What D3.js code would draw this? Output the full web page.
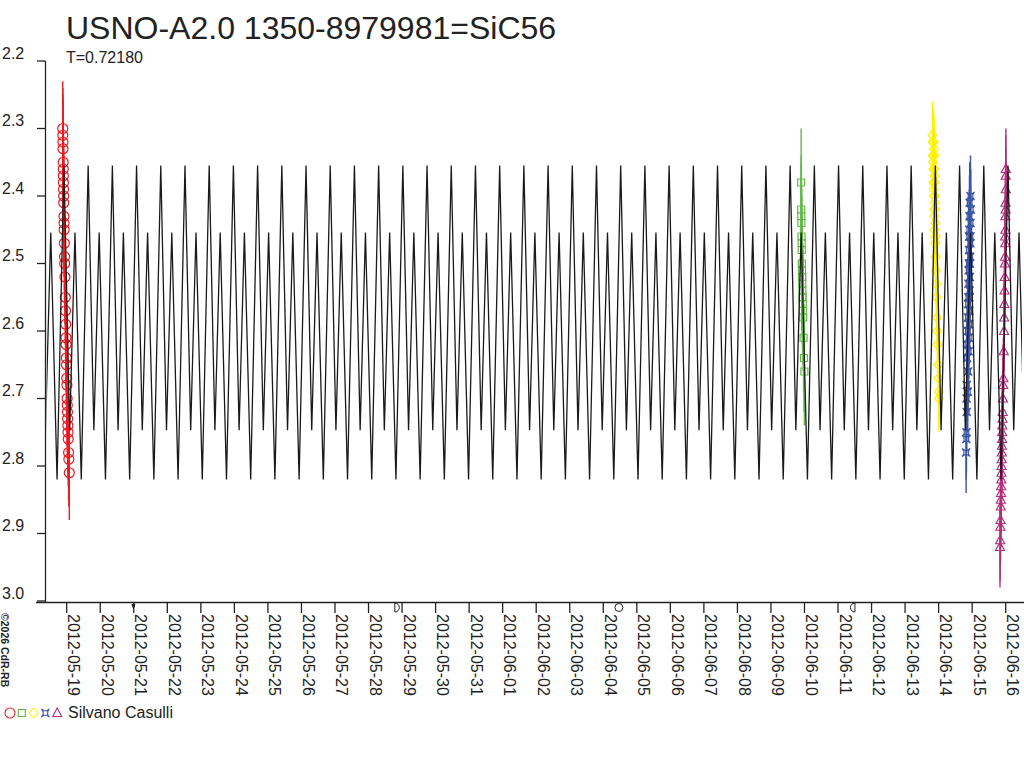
<!DOCTYPE html>
<html>
<head>
<meta charset="utf-8">
<script src="https://cdn.jsdelivr.net/npm/d3@7"></script>
<style>
body { margin: 0; background: #fff; }
text { font-family: "Liberation Sans", Arial, sans-serif; fill: #222; }
</style>
</head>
<body>
<div class="chart"></div>
<script>
// light curve, times in days after 2012-05-19 00:00 UT
var dayZero = Date.UTC(2012, 4, 19),
firstDay = Date.UTC(2012, 4, 19),
lastDay = Date.UTC(2012, 5, 16),
period = 0.72180,
epoch = 0.64;

// one cycle of the model curve
var modelPhase = [0, 0.236, 0.455, 0.715, 1],
modelMag = [2.355, 2.747, 2.454, 2.820, 2.355];

var redTime = [-0.118,-0.115,-0.112,-0.110,-0.105,-0.102,-0.100,-0.098,-0.094,-0.090,-0.088,-0.082,-0.080,-0.076,-0.070,-0.064,-0.060,-0.052,-0.042,-0.035,-0.028,-0.022,-0.018,-0.010,-0.006,0.002,0.006,0.012,0.018,0.022,0.028,0.034,0.040,0.046,0.056,0.064,0.078],
redMag = [2.30,2.31,2.32,2.33,2.35,2.36,2.37,2.38,2.39,2.40,2.41,2.43,2.44,2.45,2.47,2.49,2.50,2.52,2.55,2.57,2.59,2.61,2.62,2.64,2.65,2.67,2.68,2.70,2.71,2.72,2.73,2.74,2.75,2.76,2.78,2.79,2.81];

var greenTime = [21.900,21.902,21.905,21.908,21.912,21.915,21.918,21.922,21.925,21.928,21.930,21.934,21.938,21.942,21.945,21.950,21.955,21.962,21.972,21.985,21.998],
greenMag = [2.38,2.42,2.43,2.44,2.46,2.47,2.48,2.50,2.51,2.52,2.52,2.53,2.54,2.55,2.55,2.56,2.57,2.58,2.61,2.64,2.66];

var yellowTime = [25.815,25.850,25.825,25.860,25.830,25.868,25.836,25.870,25.845,25.878,25.850,25.880,25.855,25.885,25.862,25.890,25.870,25.895,25.875,25.900,25.880,25.905,25.900,25.910,25.920,25.930,25.940,25.955,25.962,25.970,25.985,25.995,26.005,26.010],
yellowMag = [2.31,2.32,2.32,2.33,2.34,2.34,2.35,2.36,2.36,2.37,2.38,2.38,2.39,2.40,2.40,2.41,2.42,2.42,2.43,2.44,2.45,2.46,2.47,2.49,2.51,2.53,2.55,2.58,2.60,2.62,2.65,2.67,2.69,2.70];

var blueTime = [26.950,26.925,26.958,26.920,26.952,26.915,26.948,26.910,26.945,26.905,26.940,26.900,26.936,26.898,26.930,26.890,26.925,26.885,26.920,26.880,26.915,26.875,26.905,26.870,26.900,26.860,26.895,26.850,26.880,26.840,26.870,26.835,26.838,26.830,26.826,26.820],
blueMag = [2.40,2.41,2.42,2.43,2.44,2.45,2.46,2.46,2.47,2.48,2.49,2.50,2.50,2.51,2.52,2.53,2.54,2.55,2.55,2.56,2.57,2.58,2.59,2.60,2.61,2.62,2.63,2.64,2.66,2.68,2.69,2.70,2.72,2.75,2.76,2.78];

var magentaTime = [28.005,28.000,28.002,27.995,27.998,27.990,27.992,27.985,27.988,27.980,27.976,27.972,27.966,27.960,27.955,27.950,27.942,27.930,27.925,27.918,27.910,27.905,27.900,27.896,27.892,27.888,27.884,27.880,27.876,27.872,27.868,27.864,27.860,27.856,27.852,27.846,27.842,27.836,27.830],
magentaMag = [2.36,2.37,2.39,2.41,2.42,2.43,2.45,2.46,2.47,2.49,2.50,2.52,2.54,2.56,2.58,2.60,2.63,2.67,2.68,2.70,2.72,2.73,2.74,2.75,2.76,2.77,2.78,2.79,2.80,2.81,2.82,2.83,2.84,2.85,2.86,2.88,2.89,2.91,2.92];

var seriesNames = ["red", "green", "yellow", "blue", "magenta"],
seriesColors = ["#ed1c24", "#62b846", "#fff200", "#3b55a4", "#b3307c"],
seriesErrors = [0.07, 0.08, 0.05, 0.06, 0.06],
seriesTimes = [redTime, greenTime, yellowTime, blueTime, magentaTime],
seriesMags = [redMag, greenMag, yellowMag, blueMag, magentaMag];

var moonTimes = [Date.UTC(2012,4,20,23,47), Date.UTC(2012,4,28,20,16), Date.UTC(2012,5,4,11,12), Date.UTC(2012,5,11,10,41)],
moonKinds = ["new", "first", "full", "last"];

var titleText = "USNO-A2.0 1350-8979981=SiC56",
observer = "Silvano Casulli",
yTicks = [2.2, 2.3, 2.4, 2.5, 2.6, 2.7, 2.8, 2.9, 3.0];

var width = 1024, height = 768,
plot = {left: 45.5, top: 61, right: 1022, bottom: 601};

var x = d3.scaleUtc()
.domain([new Date(firstDay), new Date(lastDay)])
.range([66.7, 1005.7]);

var y = d3.scaleLinear()
.domain([2.2, 3.0])
.range([plot.top, plot.bottom]);

function tx(t) { return x(new Date(dayZero + t * 864e5)); }

var svg = d3.select(".chart").append("svg")
.attr("width", width)
.attr("height", height);

svg.append("defs").append("clipPath").attr("id", "clip")
.append("rect")
.attr("x", plot.left + 1).attr("y", 0)
.attr("width", plot.right - plot.left - 1).attr("height", plot.bottom + 1);

// title
svg.append("text").attr("x", 66).attr("y", 39)
.style("font-size", "32px").text(titleText);
svg.append("text").attr("x", 66).attr("y", 63)
.style("font-size", "16px").text("T=" + period.toFixed(5));

// y axis
svg.append("line")
.attr("x1", plot.left).attr("x2", plot.left)
.attr("y1", y(2.2)).attr("y2", 602.5)
.attr("stroke", "#222").attr("stroke-width", 1.3);

svg.selectAll(".ytick").data(yTicks).enter().append("line")
.attr("x1", 37).attr("x2", plot.left)
.attr("y1", function(d) { return y(d); })
.attr("y2", function(d) { return y(d); })
.attr("stroke", "#222").attr("stroke-width", 1.3);

svg.selectAll(".ylab").data(yTicks).enter().append("text")
.attr("x", 2)
.attr("y", function(d) { return y(d) - 2.5; })
.style("font-size", "16px")
.text(function(d) { return d3.format(".1f")(d); });

// x axis
svg.append("line")
.attr("x1", 36).attr("x2", width)
.attr("y1", 602.5).attr("y2", 602.5)
.attr("stroke", "#222").attr("stroke-width", 1.3);

var days = d3.utcDay.range(new Date(firstDay), new Date(lastDay + 1));

svg.selectAll(".xtick").data(days).enter().append("line")
.attr("x1", function(d) { return x(d); })
.attr("x2", function(d) { return x(d); })
.attr("y1", 602.5).attr("y2", 613)
.attr("stroke", "#222").attr("stroke-width", 1.3);

svg.selectAll(".xlab").data(days).enter().append("text")
.attr("transform", function(d) { return "translate(" + (x(d) + 1.5) + ",614) rotate(90)"; })
.style("font-size", "16px")
.text(function(d) { return d3.utcFormat("%Y-%m-%d")(d); });

// moon phases along the time axis
var moons = svg.selectAll(".moon").data(moonTimes).enter().append("g")
.attr("transform", function(d) { return "translate(" + x(new Date(d)) + ",607.5)"; });

moons.append("path")
.attr("d", function(d, i) {
   var k = moonKinds[i];
   if (k == "new") return "M-1.5,-3L1.5,-3L0,1Z";
   if (k == "full") return "M-4,0A4,4 0 1,0 4,0A4,4 0 1,0 -4,0";
   if (k == "first") return "M-2,-4.5L-2,4.5A4.5,4.5 0 0,0 -2,-4.5Z";
   return "M2,-4.5L2,4.5A4.5,4.5 0 0,1 2,-4.5Z";
})
.attr("fill", function(d, i) { return moonKinds[i] == "new" ? "#222" : "none"; })
.attr("stroke", "#222").attr("stroke-width", 1);

// copyright
svg.append("text")
.attr("transform", "translate(1,613) rotate(90)")
.style("font-size", "10.5px").style("font-weight", "bold")
.text("\u00a92026 CdR-RB");

// marker shapes
function marker(name) {
   if (name == "red") return "M-5,0A5,5 0 1,0 5,0A5,5 0 1,0 -5,0";
   if (name == "green") return "M-3.5,-3.5H3.5V3.5H-3.5Z";
   if (name == "yellow") return "M0,-5L4.5,0L0,5L-4.5,0Z";
   if (name == "blue") return "M-4,-4L-1.5,-2.3L1.5,-2.3L4,-4L2.3,-1.5L2.3,1.5L4,4L1.5,2.3L-1.5,2.3L-4,4L-2.3,1.5L-2.3,-1.5Z";
   return "M0,-5L4.5,3.5L-4.5,3.5Z";
}

var obs = svg.append("g").attr("clip-path", "url(#clip)");

seriesNames.forEach(function(name, s) {
   var pts = seriesTimes[s].map(function(t, i) { return {t: t, m: seriesMags[s][i]}; });
   var g = obs.append("g");
   g.selectAll("line").data(pts).enter().append("line")
   .attr("x1", function(d) { return tx(d.t); })
   .attr("x2", function(d) { return tx(d.t); })
   .attr("y1", function(d) { return y(d.m - seriesErrors[s]); })
   .attr("y2", function(d) { return y(d.m + seriesErrors[s]); })
   .attr("stroke", seriesColors[s]).attr("stroke-width", 1.4);
   g.selectAll("path").data(pts).enter().append("path")
   .attr("transform", function(d) { return "translate(" + tx(d.t) + "," + y(d.m) + ")"; })
   .attr("d", marker(name))
   .attr("fill", "none")
   .attr("stroke", seriesColors[s]).attr("stroke-width", 1.2);
});

// model curve: the read cycle repeated with period T
var tStart = (x.invert(plot.left).getTime() - dayZero) / 864e5,
tEnd = (x.invert(plot.right).getTime() - dayZero) / 864e5,
kFirst = Math.floor((tStart - epoch) / period) - 1,
kLast = Math.ceil((tEnd - epoch) / period) + 1,
curve = [];

for (var k = kFirst; k <= kLast; k++) {
   modelPhase.forEach(function(p, i) {
       if (i == modelPhase.length - 1) return;
       curve.push({t: epoch + (k + p) * period, m: modelMag[i]});
   });
}

svg.append("path")
.datum(curve)
.attr("clip-path", "url(#clip)")
.attr("d", d3.line()
   .x(function(d) { return tx(d.t); })
   .y(function(d) { return y(d.m); }))
.attr("fill", "none")
.attr("stroke", "#1a1a1a")
.attr("stroke-width", 1.3);

// legend
var legend = svg.append("g").attr("transform", "translate(0,713)");
legend.selectAll("path").data(seriesNames).enter().append("path")
.attr("transform", function(d, i) { return "translate(" + (10 + i * 11.8) + ",0)"; })
.attr("d", function(d) { return marker(d); })
.attr("fill", "none")
.attr("stroke", function(d, i) { return seriesColors[i]; })
.attr("stroke-width", 1.1);
legend.append("text").attr("x", 68).attr("y", 5)
.style("font-size", "16px").text(observer);
</script>
</body>
</html>
